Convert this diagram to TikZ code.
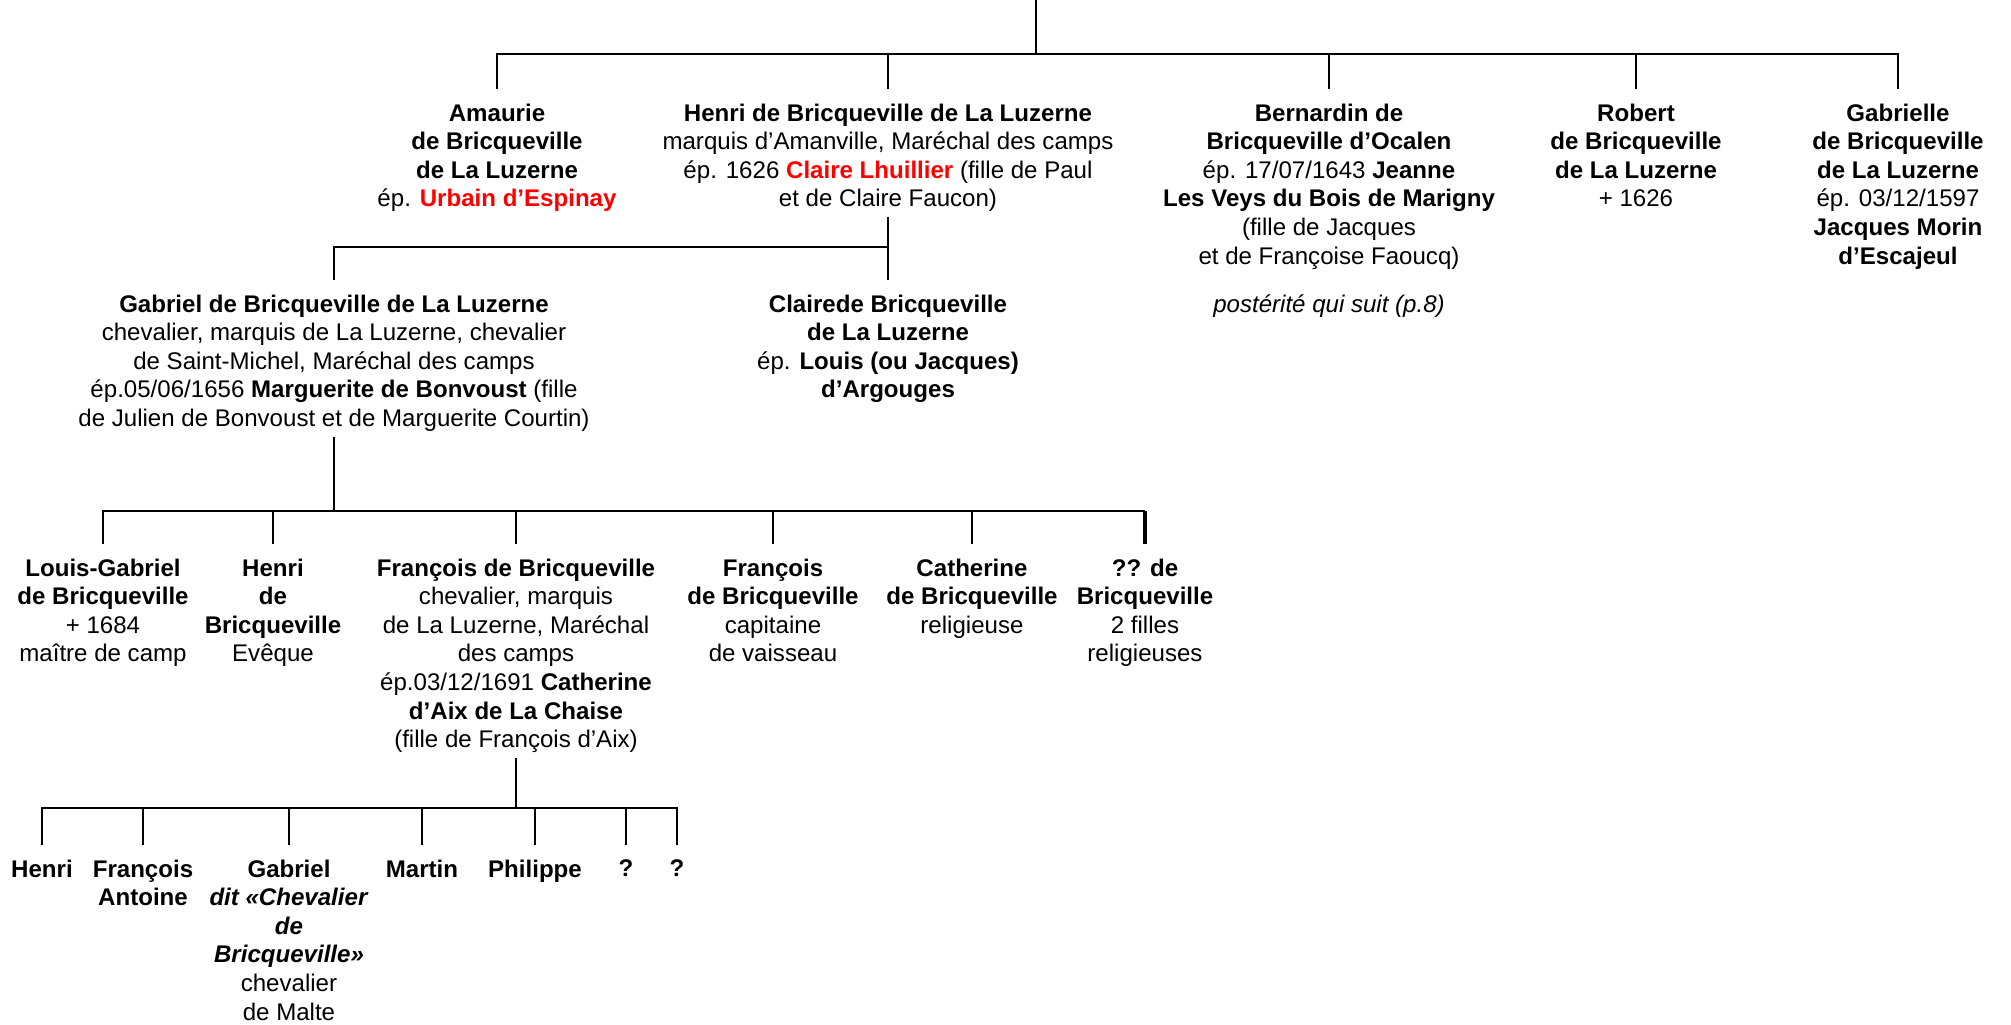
\documentclass[tikz,border=0pt]{standalone}
\usepackage{fontspec}
\setmainfont{Liberation Sans}
\definecolor{rouge}{RGB}{255,0,0}
\tikzset{
  pers/.style={align=center, anchor=north, inner sep=0pt, font=\fontsize{6.85pt}{8.14pt}\selectfont},
  lien/.style={line width=0.6pt},
  kid/.style={shorten >=4pt},
  kids/.style={shorten <=4pt, shorten >=4pt},
  dad/.style={shorten <=1.2pt}
}
\newcommand{\conj}[1]{\textbf{\textcolor{rouge}{#1}}}
\begin{document}
\begin{tikzpicture}
\useasboundingbox (0,0) rectangle (20.11,-10.24);
% premiere generation
\node[pers] (amaurie) at (4.97,-1.03) {\textbf{Amaurie}\\\textbf{de Bricqueville}\\\textbf{de La Luzerne}\\ép. \conj{Urbain d’Espinay}};
\node[pers] (henri) at (8.88,-1.03) {\textbf{Henri de Bricqueville de La Luzerne}\\marquis d’Amanville, Maréchal des camps\\ép. 1626 \conj{Claire Lhuillier} (fille de Paul\\et de Claire Faucon)};
\node[pers] (bernardin) at (13.29,-1.03) {\textbf{Bernardin de}\\\textbf{Bricqueville d’Ocalen}\\ép. 17/07/1643 \textbf{Jeanne}\\\textbf{Les Veys du Bois de Marigny}\\(fille de Jacques\\et de Françoise Faoucq)\\[5.5pt]\textit{postérité qui suit (p.8)}};
\node[pers] (robert) at (16.36,-1.03) {\textbf{Robert}\\\textbf{de Bricqueville}\\\textbf{de La Luzerne}\\+ 1626};
\node[pers] (gabrielle) at (18.98,-1.03) {\textbf{Gabrielle}\\\textbf{de Bricqueville}\\\textbf{de La Luzerne}\\ép. 03/12/1597\\\textbf{Jacques Morin}\\\textbf{d’Escajeul}};
\coordinate (top) at (10.36,0);
\coordinate (bar1) at (10.36,-0.54);
\draw[lien] (top) -- (bar1);
\draw[lien,kids] (amaurie.north) |- (bar1) -| (gabrielle.north);
\foreach \n in {henri,bernardin,robert}
  \draw[lien,kid] (\n.north |- bar1) -- (\n.north);

% enfants de Henri
\node[pers] (gabriel) at (3.34,-2.94) {\textbf{Gabriel de Bricqueville de La Luzerne}\\chevalier, marquis de La Luzerne, chevalier\\de Saint-Michel, Maréchal des camps\\ép.05/06/1656 \textbf{Marguerite de Bonvoust} (fille\\de Julien de Bonvoust et de Marguerite Courtin)};
\node[pers] (clairede) at (8.88,-2.94) {\textbf{Clairede Bricqueville}\\\textbf{de La Luzerne}\\ép. \textbf{Louis (ou Jacques)}\\\textbf{d’Argouges}};
\coordinate (bar2) at (8.88,-2.47);
\draw[lien,dad,kid] (henri.south) -- (clairede.north);
\draw[lien,kid] (bar2) -| (gabriel.north);

% enfants de Gabriel
\node[pers] (lgabriel) at (1.03,-5.58) {\textbf{Louis-Gabriel}\\\textbf{de Bricqueville}\\+ 1684\\maître de camp};
\node[pers] (henri2) at (2.73,-5.58) {\textbf{Henri}\\\textbf{de}\\\textbf{Bricqueville}\\Evêque};
\node[pers] (francois) at (5.16,-5.58) {\textbf{François de Bricqueville}\\chevalier, marquis\\de La Luzerne, Maréchal\\des camps\\ép.03/12/1691 \textbf{Catherine}\\\textbf{d’Aix de La Chaise}\\(fille de François d’Aix)};
\node[pers] (fcapitaine) at (7.73,-5.58) {\textbf{François}\\\textbf{de Bricqueville}\\capitaine\\de vaisseau};
\node[pers] (catherine) at (9.72,-5.58) {\textbf{Catherine}\\\textbf{de Bricqueville}\\religieuse};
\node[pers] (inconnu) at (11.45,-5.58) {\textbf{?? de}\\\textbf{Bricqueville}\\2 filles\\religieuses};
\coordinate (bar3) at (3.34,-5.11);
\draw[lien,dad] (gabriel.south) -- (bar3);
\draw[lien,shorten <=4pt] (lgabriel.north) |- (bar3) -- (inconnu.north |- bar3);
\draw[line width=1.2pt,kid] (inconnu.north |- bar3) -- (inconnu.north);
\foreach \n in {henri2,francois,fcapitaine,catherine}
  \draw[lien,kid] (\n.north |- bar3) -- (\n.north);

% enfants de Francois
\node[pers] (henri3) at (0.42,-8.59) {\textbf{Henri}};
\node[pers] (fantoine) at (1.43,-8.59) {\textbf{François}\\\textbf{Antoine}};
\node[pers] (gabriel3) at (2.89,-8.59) {\textbf{Gabriel}\\\textbf{\textit{dit «Chevalier}}\\\textbf{\textit{de}}\\\textbf{\textit{Bricqueville»}}\\chevalier\\de Malte};
\node[pers] (martin) at (4.22,-8.59) {\textbf{Martin}};
\node[pers] (philippe) at (5.35,-8.59) {\textbf{Philippe}};
\node[pers] (q1) at (6.26,-8.59) {\textbf{?}};
\node[pers] (q2) at (6.77,-8.59) {\textbf{?}};
\coordinate (bar4) at (5.16,-8.08);
\draw[lien,dad] (francois.south) -- (bar4);
\draw[lien,kids] (henri3.north) |- (bar4) -| (q2.north);
\foreach \n in {fantoine,gabriel3,martin,philippe,q1}
  \draw[lien,kid] (\n.north |- bar4) -- (\n.north);
\end{tikzpicture}
\end{document}
